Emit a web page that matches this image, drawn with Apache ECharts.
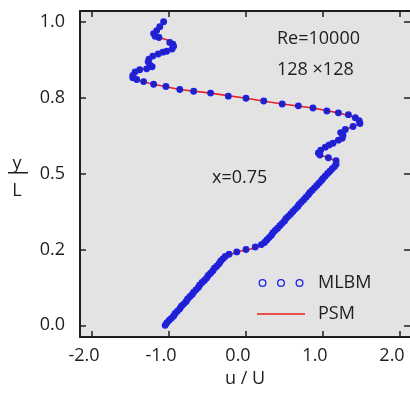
<!DOCTYPE html>
<html>
<head>
<meta charset="utf-8">
<script src="https://cdn.jsdelivr.net/npm/echarts@6.0.0/dist/echarts.min.js"></script>
<style>
    html, body { margin: 0; padding: 0; background: #fff; }
    #chart { width: 410px; height: 393px; }
</style>
</head>
<body>
<div id="chart"></div>
<script>
// tick values / labels
var xTickValues = [-2, -1, 0, 1, 2];
var xTickLabels = ['-2.0', '-1.0', '0.0', '1.0', '2.0'];
var yTickValues = [0, 0.25, 0.5, 0.75, 1];
var yTickLabels = ['0.0', '0.2', '0.5', '0.8', '1.0'];

// MLBM, lower part (grid points, dense)
var mlbmLowerY = [0.000, 0.008, 0.016, 0.023, 0.031, 0.039, 0.047, 0.055, 0.063, 0.070,
    0.078, 0.086, 0.094, 0.102, 0.109, 0.117, 0.125, 0.133, 0.141, 0.148,
    0.156, 0.164, 0.172, 0.180, 0.188, 0.195, 0.203, 0.211, 0.219, 0.227,
    0.234, 0.242, 0.250, 0.258, 0.266, 0.273, 0.281, 0.289, 0.297, 0.305,
    0.313, 0.320, 0.328, 0.336, 0.344, 0.352, 0.359, 0.367, 0.375, 0.383,
    0.391, 0.398, 0.406, 0.414, 0.422, 0.430, 0.438, 0.445, 0.453, 0.461,
    0.469, 0.477, 0.484, 0.492, 0.500, 0.508, 0.516, 0.523, 0.531];
var mlbmLowerU = [-1.05, -1.03, -1.00, -0.97, -0.94, -0.92, -0.89, -0.86, -0.84, -0.81,
    -0.78, -0.76, -0.73, -0.70, -0.68, -0.65, -0.62, -0.60, -0.57, -0.54,
    -0.51, -0.49, -0.46, -0.43, -0.41, -0.38, -0.35, -0.33, -0.30, -0.27,
    -0.22, -0.12, 0.00, 0.12, 0.20, 0.24, 0.27, 0.30, 0.33, 0.35,
    0.38, 0.41, 0.44, 0.47, 0.50, 0.52, 0.55, 0.58, 0.61, 0.64,
    0.67, 0.69, 0.72, 0.75, 0.78, 0.81, 0.83, 0.86, 0.89, 0.92,
    0.95, 0.98, 1.00, 1.03, 1.06, 1.09, 1.12, 1.15, 1.17];

// MLBM, upper part (wiggles)
var mlbmUpperY = [0.542, 0.552, 0.561, 0.568, 0.577, 0.587, 0.594, 0.600, 0.610, 0.616,
    0.626, 0.635, 0.645, 0.655, 0.665, 0.674, 0.684, 0.694, 0.700, 0.706,
    0.716, 0.723, 0.729, 0.739, 0.748, 0.755, 0.765, 0.771, 0.777, 0.787,
    0.794, 0.803, 0.810, 0.816, 0.823, 0.835, 0.842, 0.845, 0.852, 0.858,
    0.868, 0.877, 0.887, 0.894, 0.900, 0.903, 0.910, 0.919, 0.926, 0.932,
    0.948, 0.952, 0.961, 0.971, 0.984, 1.000];
var mlbmUpperU = [1.17, 1.07, 0.96, 0.94, 0.97, 1.03, 1.08, 1.13, 1.20, 1.25,
    1.26, 1.23, 1.29, 1.39, 1.48, 1.47, 1.42, 1.33, 1.20, 1.05,
    0.87, 0.68, 0.47, 0.23, 0.00, -0.23, -0.46, -0.68, -0.86, -1.04,
    -1.20, -1.33, -1.42, -1.47, -1.47, -1.44, -1.38, -1.29, -1.22, -1.25,
    -1.27, -1.26, -1.21, -1.14, -1.08, -1.03, -0.96, -0.94, -0.95, -0.99,
    -1.13, -1.18, -1.20, -1.16, -1.12, -1.07];

// PSM line vertices
var psmY = [0.000, 0.226, 0.232, 0.242, 0.248, 0.255, 0.265, 0.277, 0.532, 0.539,
    0.552, 0.561, 0.568, 0.577, 0.594, 0.610, 0.619, 0.635, 0.645, 0.655,
    0.665, 0.677, 0.687, 0.700, 0.716, 0.729, 0.748, 0.765, 0.777, 0.794,
    0.806, 0.819, 0.832, 0.842, 0.855, 0.868, 0.877, 0.894, 0.910, 0.919,
    0.932, 0.940, 0.948, 0.961, 0.984, 1.000];
var psmU = [-1.05, -0.27, -0.22, -0.12, 0.00, 0.13, 0.22, 0.29, 1.18, 1.19,
    1.07, 0.96, 0.94, 0.99, 1.09, 1.20, 1.26, 1.21, 1.29, 1.39,
    1.48, 1.47, 1.38, 1.20, 0.87, 0.47, 0.00, -0.46, -0.86, -1.20,
    -1.39, -1.47, -1.46, -1.38, -1.18, -1.27, -1.26, -1.14, -0.96, -0.94,
    -0.99, -1.02, -1.13, -1.20, -1.12, -1.07];

var FONT = '"Open Sans", "Liberation Sans", sans-serif';
var INK = '#1e1e1e';

function pairs(us, ys) {
    var out = [];
    for (var i = 0; i < us.length; i++) {
        out.push([us[i], ys[i]]);
    }
    return out;
}

var mlbmData = pairs(mlbmLowerU, mlbmLowerY).concat(pairs(mlbmUpperU, mlbmUpperY));
var psmData = pairs(psmU, psmY);

// three hollow rings for the MLBM legend icon
function ring(cx) {
    var r = 4, ri = 2.7;
    return 'M' + (cx - r) + ',4 A' + r + ',' + r + ' 0 1,1 ' + (cx + r) + ',4 A' + r + ',' + r + ' 0 1,1 ' + (cx - r) + ',4 Z ' +
        'M' + (cx - ri) + ',4 A' + ri + ',' + ri + ' 0 1,0 ' + (cx + ri) + ',4 A' + ri + ',' + ri + ' 0 1,0 ' + (cx - ri) + ',4 Z ';
}
var ringsIcon = 'path://' + ring(4) + ring(22.5) + ring(41);

var chart = echarts.init(document.getElementById('chart'));

var tickStyle = { color: INK, width: 1.5 };

var option = {
    animation: false,
    backgroundColor: '#ffffff',
    grid: {
        left: 80, right: 0, top: 11, bottom: 49,
        show: true, backgroundColor: '#e3e3e3', borderWidth: 0
    },
    legend: {
        orient: 'vertical',
        left: 252,
        top: 269,
        itemWidth: 48,
        itemHeight: 8,
        itemGap: 13,
        textStyle: { fontFamily: FONT, fontSize: 18, color: INK, padding: [0, 0, 0, 8] },
        data: [
            { name: 'MLBM', icon: ringsIcon, itemStyle: { color: '#1f1ff0', borderWidth: 0, opacity: 1 } },
            { name: 'PSM', icon: 'path://M0,0 L48,0 L48,1.6 L0,1.6 Z', itemStyle: { color: '#e82020' } }
        ]
    },
    xAxis: [{
        type: 'value',
        position: 'bottom',
        min: -2.156,
        max: 2.13,
        name: 'u / U',
        nameLocation: 'middle',
        nameGap: 30,
        nameTextStyle: { fontFamily: FONT, fontSize: 18, color: INK },
        axisLine: { show: true, onZero: false, lineStyle: { color: INK, width: 2 } },
        axisTick: { show: true, inside: true, length: 6, customValues: xTickValues, lineStyle: tickStyle },
        axisLabel: {
            customValues: xTickValues,
            margin: 10,
            padding: [0, 16, 0, 0],
            fontFamily: FONT, fontSize: 18, color: INK,
            formatter: function (v) {
                var i = xTickValues.indexOf(v);
                return i < 0 ? '' : xTickLabels[i];
            }
        },
        splitLine: { show: false }
    }, {
        type: 'value',
        position: 'top',
        min: -2.156,
        max: 2.13,
        axisLine: { show: true, onZero: false, lineStyle: { color: INK, width: 2 } },
        axisTick: { show: true, inside: true, length: 6, customValues: xTickValues, lineStyle: tickStyle },
        axisLabel: { show: false },
        splitLine: { show: false }
    }],
    yAxis: [{
        type: 'value',
        position: 'left',
        min: -0.0387,
        max: 1.0355,
        axisLine: { show: true, onZero: false, lineStyle: { color: INK, width: 2 } },
        axisTick: { show: true, inside: true, length: 6, customValues: yTickValues, lineStyle: tickStyle },
        axisLabel: {
            customValues: yTickValues,
            margin: 15,
            fontFamily: FONT, fontSize: 18, color: INK,
            formatter: function (v) {
                var i = yTickValues.indexOf(v);
                return i < 0 ? '' : yTickLabels[i];
            }
        },
        splitLine: { show: false }
    }, {
        type: 'value',
        position: 'right',
        min: -0.0387,
        max: 1.0355,
        axisLine: { show: false, onZero: false },
        axisTick: { show: true, inside: true, length: 6, customValues: yTickValues, lineStyle: tickStyle },
        axisLabel: { show: false },
        splitLine: { show: false }
    }],
    graphic: [
        // y / L fraction
        { type: 'text', x: 17, y: 164, style: { text: 'y', font: '18px ' + FONT, fill: INK, align: 'center', verticalAlign: 'middle' } },
        { type: 'rect', shape: { x: 8, y: 172, width: 20, height: 1.5 }, style: { fill: INK } },
        { type: 'text', x: 17, y: 191, style: { text: 'L', font: '18px ' + FONT, fill: INK, align: 'center', verticalAlign: 'middle' } },
        // annotations
        { type: 'text', x: 277, y: 39, style: { text: 'Re=10000', font: '18px ' + FONT, fill: INK, verticalAlign: 'middle' } },
        { type: 'text', x: 277, y: 70, style: { text: '128 \u00d7128', font: '18px ' + FONT, fill: INK, verticalAlign: 'middle' } },
        { type: 'text', x: 212, y: 178, style: { text: 'x=0.75', font: '18px ' + FONT, fill: INK, verticalAlign: 'middle' } }
    ],
    series: [
        {
            name: 'PSM',
            type: 'line',
            data: psmData,
            showSymbol: false,
            lineStyle: { color: '#e82020', width: 1.6 },
            itemStyle: { color: '#e82020' },
            z: 2
        },
        {
            name: 'MLBM',
            type: 'scatter',
            data: mlbmData,
            symbol: 'circle',
            symbolSize: 5.5,
            itemStyle: { color: '#2424a8', borderColor: '#1f1ff0', borderWidth: 1.4, opacity: 1 },
            z: 3
        }
    ]
};

chart.setOption(option);
</script>
</body>
</html>
